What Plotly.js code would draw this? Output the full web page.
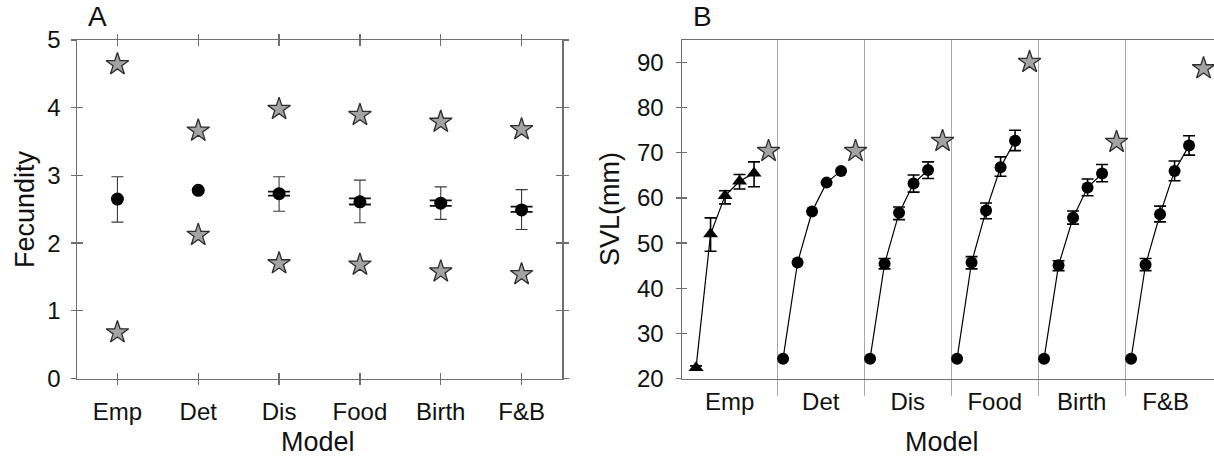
<!DOCTYPE html>
<html>
<head>
<meta charset="utf-8">
<script src="https://cdn.plot.ly/plotly-3.0.1.min.js"></script>
<style>html,body{margin:0;padding:0;background:#fff}#chart{width:1214px;height:456px}</style>
</head>
<body>
<div id="chart"></div>
<script>
// ---------- Panel A data ----------
const models = ['Emp', 'Det', 'Dis', 'Food', 'Birth', 'F&B'];
const fecMean = [2.65, 2.78, 2.73, 2.61, 2.59, 2.49];
const fecCiHigh = [2.98, null, 2.98, 2.93, 2.83, 2.79];
const fecCiLow = [2.31, null, 2.47, 2.30, 2.35, 2.20];
const fecSeHigh = [null, null, 2.76, 2.66, 2.63, 2.54];
const fecSeLow = [null, null, 2.70, 2.57, 2.55, 2.46];
const fecStarHigh = [4.64, 3.66, 3.98, 3.89, 3.79, 3.68];
const fecStarLow = [0.68, 2.12, 1.70, 1.68, 1.58, 1.54];
const fecTicks = [0, 1, 2, 3, 4, 5];

// ---------- Panel B data (SVL, mm) ----------
const svlEmp = [22.4, 52.0, 60.5, 63.7, 65.5];
const svlEmpErrUp = [0.4, 3.6, 1.1, 1.5, 2.5];
const svlEmpErrDn = [0.4, 3.8, 1.8, 1.7, 3.0];
const svlDet = [24.4, 45.7, 57.0, 63.4, 66.0];
const svlDis = [24.4, 45.4, 56.7, 63.2, 66.2];
const svlDisErrUp = [NaN, 1.2, 1.3, 1.9, 1.8];
const svlDisErrDn = [NaN, 1.1, 1.5, 1.9, 1.9];
const svlFood = [24.4, 45.7, 57.2, 66.8, 72.7];
const svlFoodErrUp = [NaN, 1.3, 1.7, 2.3, 2.3];
const svlFoodErrDn = [NaN, 1.4, 1.8, 2.0, 2.2];
const svlBirth = [24.4, 45.1, 55.6, 62.3, 65.4];
const svlBirthErrUp = [NaN, 1.0, 1.5, 1.9, 2.0];
const svlBirthErrDn = [NaN, 1.2, 1.4, 1.8, 1.8];
const svlFB = [24.4, 45.2, 56.4, 66.0, 71.6];
const svlFBErrUp = [NaN, 1.4, 1.8, 2.2, 2.2];
const svlFBErrDn = [NaN, 1.3, 1.7, 2.2, 2.1];
const svlStar = [70.4, 70.4, 72.6, 90.1, 72.4, 88.7];
const svlTicks = [20, 30, 40, 50, 60, 70, 80, 90];

// ---------- styles ----------
const FONT = 'Liberation Sans, Arial, Helvetica, sans-serif';
const AXC = '#6f6f6f';
const TXT = '#111';
const starMarker = {symbol: 'star', size: 17, color: '#a3a3a3', line: {color: '#2e2e2e', width: 1.3}};

const traces = [];

// Panel A
const idxCi = models.map((m, i) => i).filter(i => fecCiHigh[i] !== null);
traces.push({
  type: 'scatter', mode: 'markers', xaxis: 'x', yaxis: 'y', hoverinfo: 'skip',
  x: idxCi, y: idxCi.map(i => fecMean[i]),
  marker: {size: 0.1, color: 'rgba(0,0,0,0)'},
  error_y: {type: 'data', symmetric: false,
    array: idxCi.map(i => fecCiHigh[i] - fecMean[i]),
    arrayminus: idxCi.map(i => fecMean[i] - fecCiLow[i]),
    color: '#3a3a3a', thickness: 1.1, width: 6}
});
const idxSe = models.map((m, i) => i).filter(i => fecSeHigh[i] !== null);
traces.push({
  type: 'scatter', mode: 'markers', xaxis: 'x', yaxis: 'y', hoverinfo: 'skip',
  x: idxSe, y: idxSe.map(i => fecMean[i]),
  marker: {size: 0.1, color: 'rgba(0,0,0,0)'},
  error_y: {type: 'data', symmetric: false,
    array: idxSe.map(i => fecSeHigh[i] - fecMean[i]),
    arrayminus: idxSe.map(i => fecMean[i] - fecSeLow[i]),
    color: '#111', thickness: 1.8, width: 11}
});
traces.push({
  type: 'scatter', mode: 'markers', xaxis: 'x', yaxis: 'y',
  x: models.map((m, i) => i), y: fecMean,
  marker: {symbol: 'circle', size: 13, color: '#000'}
});
traces.push({
  type: 'scatter', mode: 'markers', xaxis: 'x', yaxis: 'y',
  x: models.map((m, i) => i), y: fecStarHigh, marker: starMarker
});
traces.push({
  type: 'scatter', mode: 'markers', xaxis: 'x', yaxis: 'y',
  x: models.map((m, i) => i), y: fecStarLow, marker: starMarker
});

// Panel B
const groups = [
  {v: svlEmp, up: svlEmpErrUp, dn: svlEmpErrDn, sym: 'triangle-up', size: 13},
  {v: svlDet, up: null, dn: null, sym: 'circle', size: 12},
  {v: svlDis, up: svlDisErrUp, dn: svlDisErrDn, sym: 'circle', size: 12},
  {v: svlFood, up: svlFoodErrUp, dn: svlFoodErrDn, sym: 'circle', size: 12},
  {v: svlBirth, up: svlBirthErrUp, dn: svlBirthErrDn, sym: 'circle', size: 12},
  {v: svlFB, up: svlFBErrUp, dn: svlFBErrDn, sym: 'circle', size: 12}
];
const perGroup = svlEmp.length + 1;
groups.forEach((g, gi) => {
  const xs = g.v.map((v, i) => gi * perGroup + i);
  const t = {
    type: 'scatter', mode: 'lines+markers', xaxis: 'x2', yaxis: 'y2',
    x: xs, y: g.v,
    line: {color: '#000', width: 1.2},
    marker: {symbol: g.sym, size: g.size, color: '#000'}
  };
  if (g.up) {
    t.error_y = {type: 'data', symmetric: false, array: g.up, arrayminus: g.dn,
      color: '#000', thickness: 1.6, width: 6};
  }
  traces.push(t);
});
traces.push({
  type: 'scatter', mode: 'markers', xaxis: 'x2', yaxis: 'y2',
  x: svlStar.map((v, gi) => gi * perGroup + svlEmp.length), y: svlStar,
  marker: starMarker
});

// helper invisible traces for overlay axes
traces.push({type: 'scatter', mode: 'markers', x: [0], y: [0], xaxis: 'x3', yaxis: 'y3', marker: {opacity: 0}, hoverinfo: 'skip'});
traces.push({type: 'scatter', mode: 'markers', x: [0], y: [20], xaxis: 'x4', yaxis: 'y4', marker: {opacity: 0}, hoverinfo: 'skip'});

// geometry
const W = 1214, H = 456;
const aL = 77 / W, aR = 562 / W, bL = 682 / W, bR = 1;
const yB = 1 - 378.5 / H, yT = 1 - 40 / H;
const bRange = [-0.97, -0.97 + (1214 - 682) / 14.5];
const seps = models.slice(1).map((m, i) => (i + 1) * perGroup - 0.4);
const sepBounds = [bRange[0]].concat(seps, [bRange[1] - 0.55]);
const labelPos = models.map((m, i) => (sepBounds[i] + sepBounds[i + 1]) / 2);

const tickFont = {family: FONT, size: 24, color: TXT};
const xTickFont = {family: FONT, size: 24, color: TXT};
const titleFont = {family: FONT, size: 27, color: TXT};

const layout = {
  width: W, height: H,
  margin: {l: 0, r: 0, t: 0, b: 0},
  paper_bgcolor: '#fff', plot_bgcolor: 'rgba(0,0,0,0)',
  showlegend: false,
  font: {family: FONT, color: TXT},
  xaxis: {domain: [aL, aR], anchor: 'y', range: [-0.5, 5.5],
    tickmode: 'array', tickvals: models.map((m, i) => i), ticktext: models,
    ticks: 'outside', ticklen: 5, tickwidth: 1.3, tickcolor: AXC,
    showline: true, linecolor: AXC, linewidth: 1.5, mirror: 'ticks',
    showgrid: false, zeroline: false, tickfont: xTickFont,
    ticklabelstandoff: 6},
  yaxis: {domain: [yB, yT], anchor: 'x', range: [0, 5],
    tickmode: 'array', tickvals: fecTicks,
    ticks: 'outside', ticklen: 5, tickwidth: 1.3, tickcolor: AXC,
    showline: true, linecolor: AXC, linewidth: 1.5, mirror: 'ticks',
    showgrid: false, zeroline: false, tickfont: tickFont, ticklabelstandoff: 5},
  xaxis3: {overlaying: 'x', anchor: 'y', range: [-0.5, 5.5],
    tickmode: 'array', tickvals: models.map((m, i) => i),
    ticks: 'inside', ticklen: 6, tickwidth: 1.3, tickcolor: AXC, mirror: 'ticks',
    showline: false, showgrid: false, zeroline: false, showticklabels: false},
  yaxis3: {overlaying: 'y', anchor: 'x', range: [0, 5],
    tickmode: 'array', tickvals: fecTicks,
    ticks: 'inside', ticklen: 6, tickwidth: 1.3, tickcolor: AXC, mirror: 'ticks',
    showline: false, showgrid: false, zeroline: false, showticklabels: false},

  xaxis2: {domain: [bL, bR], anchor: 'y2', range: bRange,
    tickmode: 'array', tickvals: seps,
    ticks: 'outside', ticklen: 16, tickwidth: 1, tickcolor: '#a8a8a8',
    showgrid: true, gridcolor: '#a8a8a8', gridwidth: 1,
    showline: true, linecolor: AXC, linewidth: 1.5, mirror: true,
    zeroline: false, showticklabels: false},
  xaxis4: {overlaying: 'x2', anchor: 'y2', range: bRange,
    tickmode: 'array', tickvals: labelPos, ticktext: models,
    ticks: '', showline: false, showgrid: false, zeroline: false,
    tickfont: xTickFont, ticklabelstandoff: 6},
  yaxis2: {domain: [yB, yT], anchor: 'x2', range: [20, 95],
    tickmode: 'array', tickvals: svlTicks,
    ticks: 'outside', ticklen: 5, tickwidth: 1.3, tickcolor: AXC,
    showline: true, linecolor: AXC, linewidth: 1.5, mirror: false,
    showgrid: false, zeroline: false, tickfont: tickFont, ticklabelstandoff: 7},
  yaxis4: {overlaying: 'y2', anchor: 'x2', range: [20, 95],
    tickmode: 'array', tickvals: svlTicks,
    ticks: 'inside', ticklen: 5, tickwidth: 1.3, tickcolor: AXC,
    showline: false, showgrid: false, zeroline: false, showticklabels: false},

  annotations: [
    {text: 'A', x: 98 / W, y: 1 - 17 / H, xref: 'paper', yref: 'paper', showarrow: false,
      xanchor: 'center', yanchor: 'middle', font: {family: FONT, size: 28, color: TXT}},
    {text: 'B', x: 702 / W, y: 1 - 17 / H, xref: 'paper', yref: 'paper', showarrow: false,
      xanchor: 'center', yanchor: 'middle', font: {family: FONT, size: 28, color: TXT}},
    {text: 'Fecundity', x: 25 / W, y: 1 - 209 / H, xref: 'paper', yref: 'paper', showarrow: false,
      textangle: -90, xanchor: 'center', yanchor: 'middle', font: titleFont},
    {text: 'SVL(mm)', x: 610 / W, y: 1 - 209 / H, xref: 'paper', yref: 'paper', showarrow: false,
      textangle: -90, xanchor: 'center', yanchor: 'middle', font: titleFont},
    {text: 'Model', x: 318 / W, y: 1 - 442 / H, xref: 'paper', yref: 'paper', showarrow: false,
      xanchor: 'center', yanchor: 'middle', font: titleFont},
    {text: 'Model', x: 942 / W, y: 1 - 442 / H, xref: 'paper', yref: 'paper', showarrow: false,
      xanchor: 'center', yanchor: 'middle', font: titleFont}
  ]
};

Plotly.newPlot('chart', traces, layout, {displayModeBar: false, staticPlot: true});
</script>
</body>
</html>
